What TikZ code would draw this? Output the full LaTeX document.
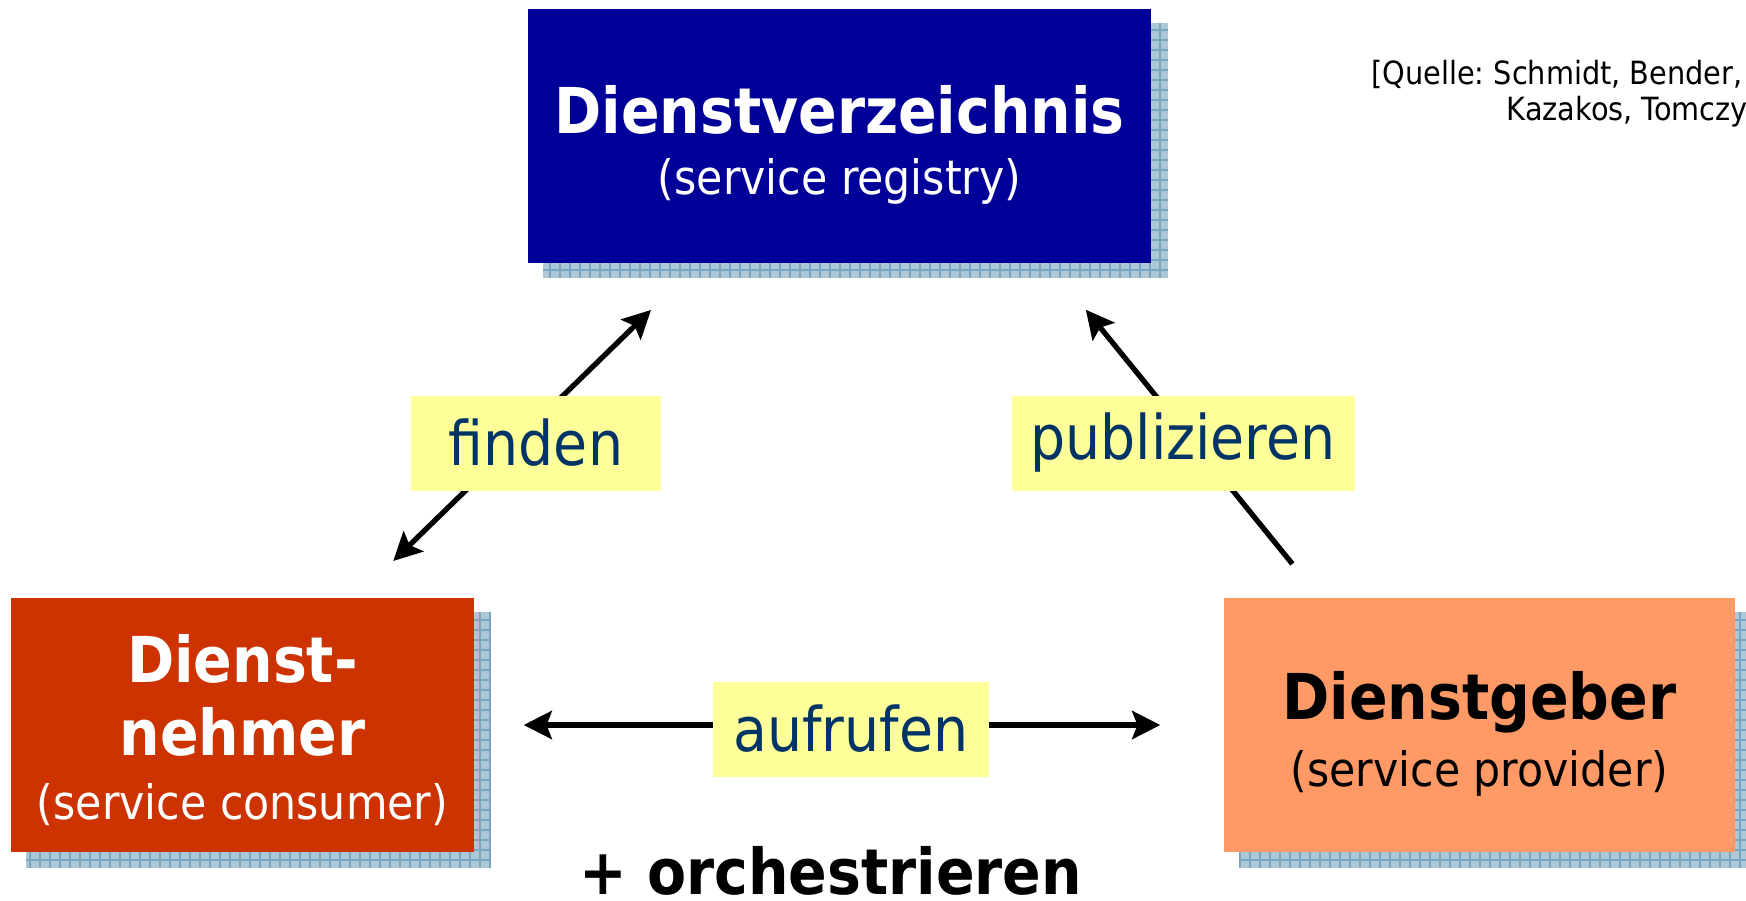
\documentclass[tikz,border=0pt]{standalone}
\usepackage{fontspec}
\setmainfont{DejaVu Sans Condensed}
\usepackage{tikz}
\usetikzlibrary{arrows.meta, backgrounds}
\definecolor{regblue}{RGB}{0,0,153}
\definecolor{consred}{RGB}{204,51,0}
\definecolor{provorange}{RGB}{255,153,102}
\definecolor{labelyellow}{RGB}{255,255,153}
\definecolor{labeltext}{RGB}{0,51,102}
\definecolor{shadowfill}{RGB}{172,200,214}
\definecolor{shadowline}{RGB}{122,165,190}
\tikzstyle{svc} = [rectangle, text centered, align=center, inner sep=0pt, minimum height=2.54cm, font=\fontsize{13.5}{17.4}\selectfont]
\tikzstyle{verblabel} = [rectangle, fill=labelyellow, text=labeltext, minimum height=0.95cm, inner sep=0pt, font=\fontsize{17.5}{20}\selectfont]
\tikzstyle{arrow} = [line width=1.5pt, ->, >={Stealth[length=8pt,width=8pt,inset=1.5pt]}]
\tikzstyle{shadowbox} = [fill=shadowfill]
\tikzstyle{shadowgrid} = [draw=shadowline, line width=0.4pt, step=0.1cm]
\newcommand{\titlefont}{\fontsize{18}{21}\selectfont\bfseries}
\newcommand{\citefont}{\fontsize{9.1}{10.3}\selectfont\frenchspacing}
\newcommand{\shadowof}[1]{%
  \fill [shadowbox] ([xshift=0.16cm,yshift=-0.15cm]#1.south west) rectangle ([xshift=0.16cm,yshift=-0.15cm]#1.north east);
  \draw [shadowgrid] ([xshift=0.16cm,yshift=-0.15cm]#1.south west) grid ([xshift=0.16cm,yshift=-0.15cm]#1.north east);}

\begin{document}
\begin{tikzpicture}

\useasboundingbox (0,0) rectangle (17.46,-9.00);

\node (reg) [svc, fill=regblue, text=white, minimum width=6.23cm] at (8.395,-1.355) {\rule{0pt}{18.8pt}{\titlefont Dienstverzeichnis}\\(service registry)};
\node (cons) [svc, fill=consred, text=white, minimum width=4.63cm] at (2.425,-7.25) {\rule{0pt}{16.6pt}{\titlefont Dienst-}\\[3.4pt]{\titlefont nehmer}\\[0.8pt](service consumer)};
\node (prov) [svc, fill=provorange, text=black, minimum width=5.11cm] at (14.795,-7.25) {\rule{0pt}{18.6pt}{\titlefont Dienstgeber}\\[1.6pt](service provider)};

\begin{scope}[on background layer]
\shadowof{reg}
\shadowof{cons}
\shadowof{prov}
\end{scope}

\draw [arrow, <->, shorten <=0.52cm, shorten >=0.67cm] ([xshift=1.135cm]cons.north) -- ([xshift=-1.405cm]reg.south);
\draw [arrow, shorten <=0.43cm, shorten >=0.60cm] ([xshift=-1.60cm]prov.north) -- ([xshift=2.085cm]reg.south);
\draw [arrow, <->, shorten <=0.49cm, shorten >=0.63cm] (cons) -- (prov);

\node (find) [verblabel, minimum width=2.50cm] at (5.36,-4.43) {finden};
\node (pub) [verblabel, minimum width=3.43cm] at (11.83,-4.43) {publizieren};
\node (call) [verblabel, minimum width=2.76cm] at (8.51,-7.29) {aufrufen};

\node (orch) [anchor=base, font=\titlefont] at (8.31,-8.94) {+ orchestrieren};

\node (cite1) [anchor=base east, font=\citefont] at (17.55,-0.84) {[Quelle: Schmidt, Bender,};
\node (cite2) [anchor=base east, font=\citefont] at (17.60,-1.20) {Kazakos, Tomczy};

\end{tikzpicture}
\end{document}
